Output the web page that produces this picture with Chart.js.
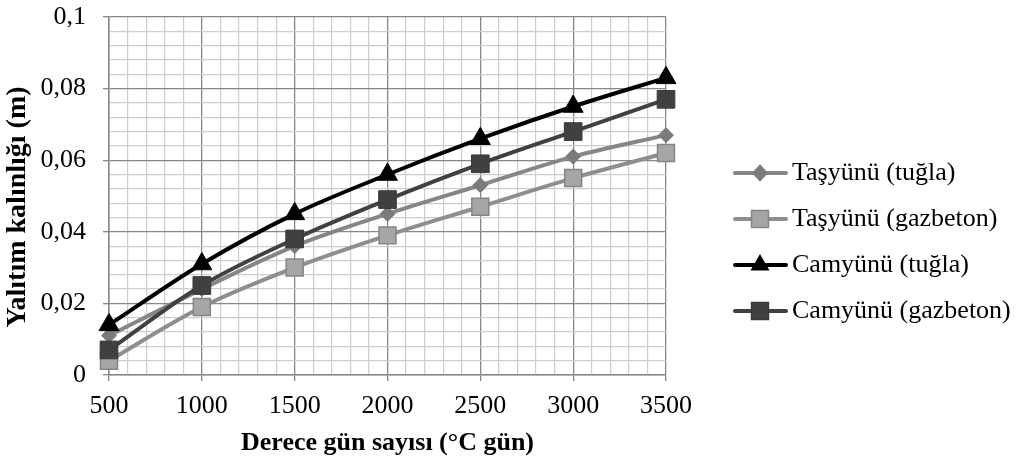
<!DOCTYPE html>
<html>
<head>
<meta charset="utf-8">
<script src="https://cdn.jsdelivr.net/npm/chart.js@4.4.1/dist/chart.umd.min.js"></script>
<style>
  html, body { margin: 0; padding: 0; background: #fff; }
</style>
</head>
<body>
<canvas id="chart" width="1019" height="464"></canvas>
<script>
// degree-day values (x) and insulation thickness series (y, metres)
const degreeDays = [500, 1000, 1500, 2000, 2500, 3000, 3500]
const tasyunuTugla = [0.011, 0.024, 0.036, 0.045, 0.053, 0.061, 0.067]
const tasyunuGazbeton = [0.004, 0.019, 0.030, 0.039, 0.047, 0.055, 0.062]
const camyunuTugla = [0.014, 0.031, 0.045, 0.056, 0.066, 0.075, 0.083]
const camyunuGazbeton = [0.007, 0.025, 0.038, 0.049, 0.059, 0.068, 0.077]
const seriesNames = ['Taşyünü (tuğla)', 'Taşyünü (gazbeton)', 'Camyünü (tuğla)', 'Camyünü (gazbeton)']
const xTitle = 'Derece gün sayısı (°C gün)'
const yTitle = 'Yalıtım kalınlığı (m)'

const toPoints = arr => degreeDays.map((x, i) => ({ x: x, y: arr[i] }))

const serif = 'Liberation Serif, Times New Roman, serif'
const majorGrid = '#878787'
const minorGrid = '#cdcdcd'

// little helper for the legend markers
function marker(ctx, style, x, y, r, fill, stroke) {
  ctx.beginPath()
  if (style === 'rectRot') {
    ctx.moveTo(x, y - r * 1.1); ctx.lineTo(x + r, y); ctx.lineTo(x, y + r * 1.1); ctx.lineTo(x - r, y)
  } else if (style === 'triangle') {
    ctx.moveTo(x, y - r)
    ctx.lineTo(x + r * 0.866, y + r / 2)
    ctx.lineTo(x - r * 0.866, y + r / 2)
  } else {
    const s = r * Math.SQRT1_2
    ctx.rect(x - s, y - s, 2 * s, 2 * s)
  }
  ctx.closePath()
  ctx.fillStyle = fill
  ctx.fill()
  ctx.lineWidth = 1.5
  ctx.strokeStyle = stroke
  ctx.stroke()
}

// legend on the right + the rotated y title (Excel puts it a bit below centre)
const sideLegend = {
  id: 'sideLegend',
  afterDraw(chart) {
    const ctx = chart.ctx
    const x0 = chart.chartArea.right + 67
    chart.data.datasets.forEach((ds, i) => {
      const y = 173 + i * 46
      ctx.save()
      ctx.strokeStyle = ds.borderColor
      ctx.lineWidth = ds.borderWidth
      ctx.lineCap = 'round'
      ctx.beginPath()
      ctx.moveTo(x0 + 2, y)
      ctx.lineTo(x0 + 53, y)
      ctx.stroke()
      marker(ctx, ds.pointStyle, x0 + 27, y, ds.legendRadius, ds.pointBackgroundColor, ds.pointBorderColor)
      ctx.fillStyle = '#000'
      ctx.font = '26px ' + serif
      ctx.textBaseline = 'middle'
      ctx.fillText(ds.label, x0 + 59, y)
      ctx.restore()
    })

    ctx.save()
    ctx.translate(18, 207)
    ctx.rotate(-Math.PI / 2)
    ctx.font = 'bold 28px ' + serif
    ctx.fillStyle = '#000'
    ctx.textAlign = 'center'
    ctx.textBaseline = 'middle'
    ctx.fillText(yTitle, 0, 0)
    ctx.restore()
  }
}

const isMajorY = v => Math.round(v * 1000) % 20 === 0
const isMajorX = v => Math.round(v) % 500 === 0

// fixed axis sizes so the plot box lands where Excel had it
const fitX = s => { s.height = 89; s.paddingLeft = 0; s.paddingRight = 0 }
const fitY = s => { s.width = 109; s.paddingTop = 0; s.paddingBottom = 0 }

const ctx = document.getElementById('chart').getContext('2d')
new Chart(ctx, {
  type: 'line',
  data: {
    datasets: [
      {
        label: seriesNames[0],
        data: toPoints(tasyunuTugla),
        borderColor: '#868686',
        borderWidth: 4,
        pointStyle: 'rectRot',
        pointRadius: 7.5,
        legendRadius: 7,
        pointBackgroundColor: '#7b7b7b',
        pointBorderColor: '#7b7b7b',
        pointBorderWidth: 1,
        order: 4
      },
      {
        label: seriesNames[1],
        data: toPoints(tasyunuGazbeton),
        borderColor: '#8e8e8e',
        borderWidth: 4,
        pointStyle: 'rect',
        pointRadius: 12,
        legendRadius: 12,
        pointBackgroundColor: '#a6a6a6',
        pointBorderColor: '#858585',
        pointBorderWidth: 1.5,
        order: 3
      },
      {
        label: seriesNames[2],
        data: toPoints(camyunuTugla),
        borderColor: '#000',
        borderWidth: 4,
        pointStyle: 'triangle',
        pointRadius: 11.5,
        legendRadius: 9.5,
        pointBackgroundColor: '#000',
        pointBorderColor: '#000',
        pointBorderWidth: 1,
        order: 1
      },
      {
        label: seriesNames[3],
        data: toPoints(camyunuGazbeton),
        borderColor: '#404040',
        borderWidth: 4,
        pointStyle: 'rect',
        pointRadius: 12.5,
        legendRadius: 12,
        pointBackgroundColor: '#404040',
        pointBorderColor: '#3a3a3a',
        pointBorderWidth: 1,
        order: 2
      }
    ]
  },
  options: {
    responsive: false,
    animation: false,
    devicePixelRatio: 1,
    clip: false,
    datasets: {
      line: {
        clip: false,
        tension: 0.25,
        cubicInterpolationMode: 'monotone',
        borderCapStyle: 'round',
        borderJoinStyle: 'round'
      }
    },
    layout: { padding: { left: 0, right: 353, top: 17, bottom: 0 } },
    plugins: {
      legend: { display: false },
      tooltip: { enabled: false }
    },
    scales: {
      x: {
        type: 'linear',
        min: 500,
        max: 3500,
        afterFit: fitX,
        ticks: {
          stepSize: 100,
          autoSkip: false,
          maxRotation: 0,
          padding: 10,
          color: '#000',
          font: { family: serif, size: 26 },
          callback: v => isMajorX(v) ? String(Math.round(v)) : ''
        },
        grid: {
          color: c => isMajorX(c.tick.value) ? majorGrid : minorGrid,
          lineWidth: c => isMajorX(c.tick.value) ? 1.3 : 1.2,
          tickColor: c => isMajorX(c.tick.value) ? majorGrid : 'rgba(0,0,0,0)',
          tickLength: 6
        },
        border: { color: majorGrid, width: 1.5 },
        title: {
          display: true,
          text: xTitle,
          color: '#000',
          font: { family: serif, size: 26, weight: 'bold' },
          padding: { top: 2, bottom: 5 }
        }
      },
      y: {
        min: 0,
        max: 0.1,
        afterFit: fitY,
        ticks: {
          stepSize: 0.004,
          autoSkip: false,
          padding: 17,
          color: '#000',
          font: { family: serif, size: 26 },
          callback: v => isMajorY(v) ? String(Math.round(v * 1000) / 1000).replace('.', ',') : ''
        },
        grid: {
          color: c => isMajorY(c.tick.value) ? majorGrid : minorGrid,
          lineWidth: c => isMajorY(c.tick.value) ? 1.3 : 1.2,
          tickColor: c => isMajorY(c.tick.value) ? majorGrid : 'rgba(0,0,0,0)',
          tickLength: 6
        },
        border: { color: majorGrid, width: 1.5 },
        title: { display: false }
      }
    }
  },
  plugins: [sideLegend]
})
</script>
</body>
</html>
